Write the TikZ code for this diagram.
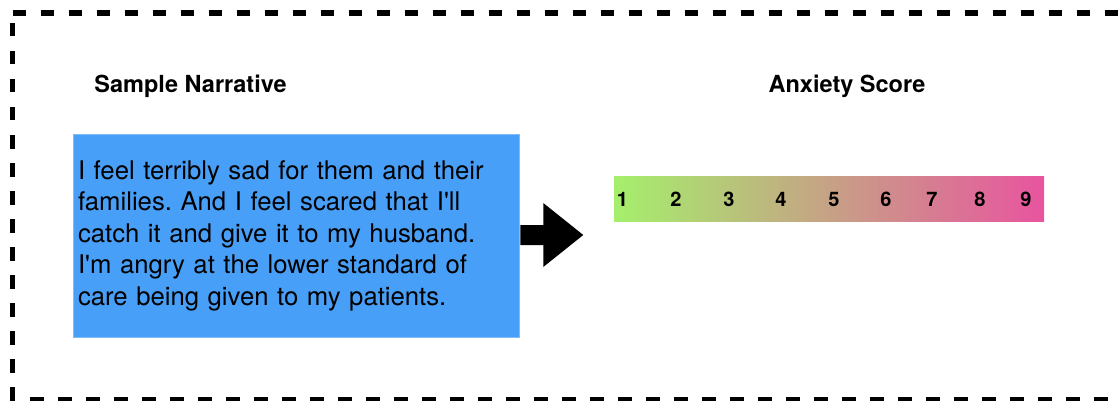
\documentclass[tikz,border=0pt]{standalone}
\usepackage{fontspec}
\setmainfont{TeX Gyre Heros}
\usetikzlibrary{calc}
\definecolor{narrblue}{RGB}{72,159,248}
\definecolor{scorelo}{RGB}{165,239,108}
\definecolor{scorehi}{RGB}{232,84,159}
\newcommand{\sq}{\textquotesingle}
\tikzset{
  border/.style={line width=5.5pt, dash pattern=on 13.5pt off 14.5pt, line cap=butt},
  title/.style={font=\fontsize{23.5}{28}\selectfont\bfseries, anchor=base, inner sep=0pt},
  narrbox/.style={fill=narrblue, draw=narrblue!70!white, line width=0.6pt, minimum width=446pt, minimum height=203pt,
    text width=436pt, inner xsep=5pt, inner ysep=0pt, align=left, font=\fontsize{25.7}{31.5}\selectfont\frenchspacing},
  scorebar/.style={left color=scorelo, right color=scorehi, minimum width=430pt, minimum height=45pt, inner sep=0pt},
  digit/.style={font=\fontsize{20}{24}\selectfont\bfseries, inner sep=0pt},
  blockarrow/.style={fill=black}
}
\begin{document}
\begin{tikzpicture}[x=1pt,y=-1pt]
\useasboundingbox (0,0) rectangle (1118,401);
% dashed frame
\draw[border] (12.7,12.8) -- (1135,12.8);
\draw[border] (12.5,23) -- (12.5,410);
\draw[border] (30,399.5) -- (1135,399.5);
% titles
\node[title] (t1) at (190.5,93) {Sample Narrative};
\node[title] (t2) at (847,93) {Anxiety Score};
% narrative
\node[narrbox] (narr) at (296,235.5) {I feel terribly sad for them and their\\families. And I feel scared that I\sq ll\\catch it and give it to my husband.\\I\sq m angry at the lower standard of\\care being given to my patients.};
% score bar
\node[scorebar] (bar) at (829,198.5) {};
\foreach \i/\x in {1/622.5,2/676,3/729,4/781,5/834,6/886,7/932,8/980,9/1026}{
  \node[digit] (n\i) at (\x,199) {\i};
}
% block arrow
\fill[blockarrow] ($(narr.east)+(1,-10.5)$) -- ++(23,0) -- ++(0,-22) -- ($(narr.east)+(64,-0.5)$)
  -- ($(narr.east)+(24,31.5)$) -- ++(0,-22) -- ++(-23,0) -- cycle;
\end{tikzpicture}
\end{document}
